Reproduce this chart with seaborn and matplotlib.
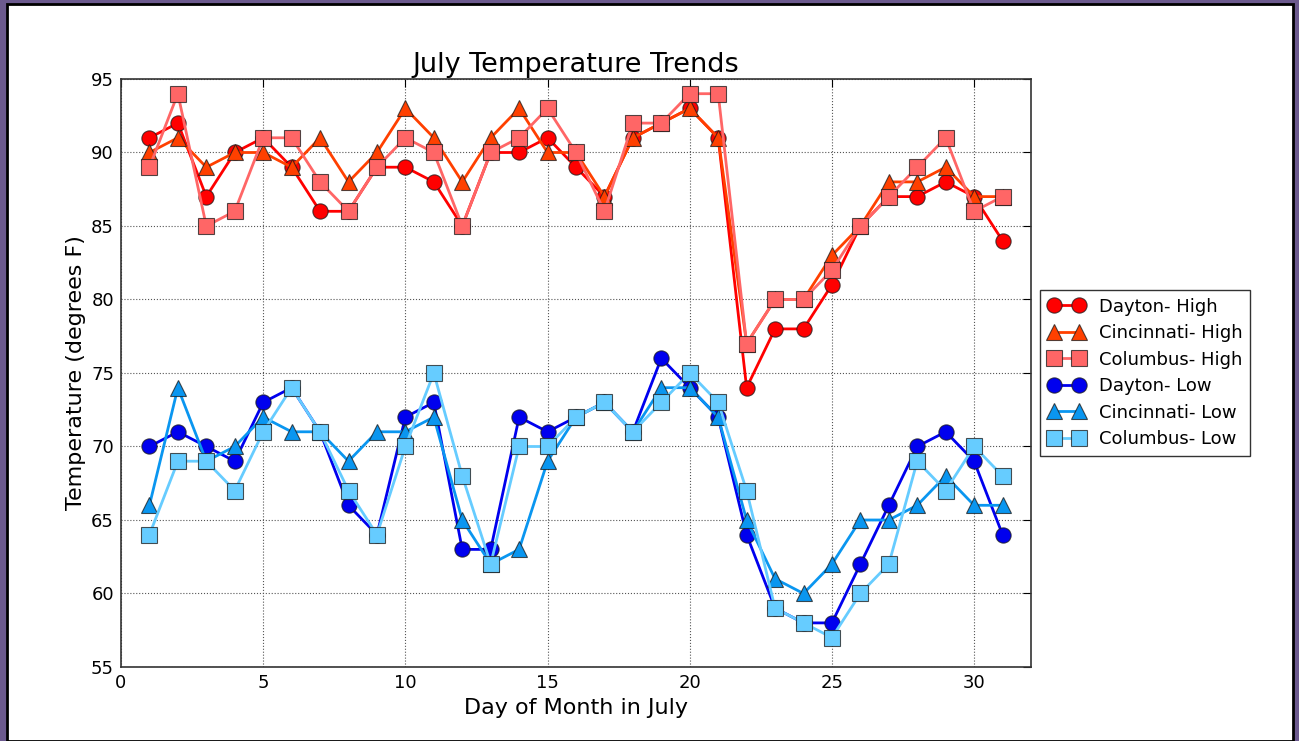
import matplotlib
matplotlib.use("Agg")
import matplotlib.pyplot as plt
import seaborn as sns

# ==========================================
# DATA
# ==========================================

days = list(range(1, 32))

dayton_high = [91, 92, 87, 90, 91, 89, 86, 86, 89, 89, 88, 85, 90, 90, 91, 89,
               87, 91, 92, 93, 91, 74, 78, 78, 81, 85, 87, 87, 88, 87, 84]
cincinnati_high = [90, 91, 89, 90, 90, 89, 91, 88, 90, 93, 91, 88, 91, 93, 90, 90,
                   87, 91, 92, 93, 91, 77, 80, 80, 83, 85, 88, 88, 89, 87, 87]
columbus_high = [89, 94, 85, 86, 91, 91, 88, 86, 89, 91, 90, 85, 90, 91, 93, 90,
                 86, 92, 92, 94, 94, 77, 80, 80, 82, 85, 87, 89, 91, 86, 87]

dayton_low = [70, 71, 70, 69, 73, 74, 71, 66, 64, 72, 73, 63, 63, 72, 71, 72,
              73, 71, 76, 74, 72, 64, 59, 58, 58, 62, 66, 70, 71, 69, 64]
cincinnati_low = [66, 74, 69, 70, 72, 71, 71, 69, 71, 71, 72, 65, 62, 63, 69, 72,
                  73, 71, 74, 74, 72, 65, 61, 60, 62, 65, 65, 66, 68, 66, 66]
columbus_low = [64, 69, 69, 67, 71, 74, 71, 67, 64, 70, 75, 68, 62, 70, 70, 72,
                73, 71, 73, 75, 73, 67, 59, 58, 57, 60, 62, 69, 67, 70, 68]

series_labels = ["Dayton- High", "Cincinnati- High", "Columbus- High",
                 "Dayton- Low", "Cincinnati- Low", "Columbus- Low"]
series_values = [dayton_high, cincinnati_high, columbus_high,
                 dayton_low, cincinnati_low, columbus_low]
series_colors = ["#ff0000", "#ff4000", "#ff6666",
                 "#0000ee", "#0a96f0", "#66ccff"]
series_markers = ["o", "^", "s", "o", "^", "s"]

x_ticks = [0, 5, 10, 15, 20, 25, 30]
y_ticks = [55, 60, 65, 70, 75, 80, 85, 90, 95]

# ==========================================
# STYLE
# ==========================================

sns.set_style("white")
plt.rcParams["font.family"] = ["DejaVu Sans"]
plt.rcParams["text.color"] = "black"
plt.rcParams["axes.labelcolor"] = "black"
plt.rcParams["xtick.color"] = "black"
plt.rcParams["ytick.color"] = "black"
plt.rcParams["xtick.direction"] = "in"
plt.rcParams["ytick.direction"] = "in"

W, H, DPI = 1299, 741, 100
fig = plt.figure(figsize=(W / DPI, H / DPI), dpi=DPI)
fig.patch.set_facecolor("#6c5a8e")

# white window area with a dark border, like the screenshot
frame = plt.Rectangle(
    (7 / W, 0), (1293 - 7) / W, (741 - 4) / H,
    transform=fig.transFigure,
    facecolor="white",
    edgecolor="black",
    linewidth=2,
    zorder=-1
)
fig.add_artist(frame)

ax = fig.add_axes([121 / W, 1 - 667 / H, (1031 - 121) / W, (667 - 79) / H])

# ==========================================
# LINES
# ==========================================

for label, vals, color, marker in zip(series_labels, series_values,
                                      series_colors, series_markers):
    sns.lineplot(
        x=days,
        y=vals,
        ax=ax,
        color=color,
        marker=marker,
        markersize=11 if marker != "^" else 11.5,
        markeredgecolor=(0.1, 0.1, 0.1, 0.75),
        markeredgewidth=0.8,
        linewidth=2,
        label=label,
        legend=False
    )

# ==========================================
# AXES
# ==========================================

ax.set_xlim(0, 32)
ax.set_ylim(55, 95)
ax.set_xticks(x_ticks)
ax.set_yticks(y_ticks)
ax.tick_params(axis="both", labelsize=13, length=6, width=0.8,
               top=True, right=True, pad=5)

ax.grid(True, linestyle=":", color="#555555", linewidth=0.8)

for side in ax.spines.values():
    side.set_color("#333333")
    side.set_linewidth(1.2)

ax.set_title("July Temperature Trends", fontsize=19.5, pad=5)
ax.set_xlabel("Day of Month in July", fontsize=16)
ax.set_ylabel("Temperature (degrees F)", fontsize=16)

leg = ax.legend(
    loc="center left",
    bbox_to_anchor=(1.0, 0.5),
    numpoints=2,
    handlelength=2.0,
    fontsize=13,
    labelspacing=0.47,
    borderpad=0.45,
    fancybox=False,
    framealpha=1,
    edgecolor="#333333",
    borderaxespad=0.5
)
leg.get_frame().set_linewidth(1.0)

fig.savefig("out.png", dpi=DPI, facecolor=fig.get_facecolor())
